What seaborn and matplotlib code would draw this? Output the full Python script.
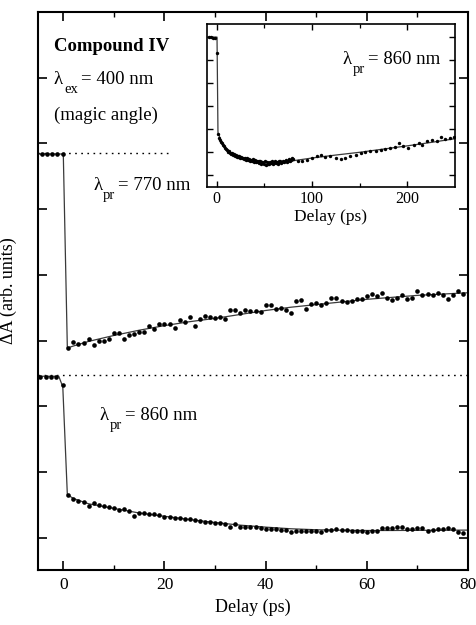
import numpy as np
import pandas as pd
import matplotlib
matplotlib.use("Agg")
import matplotlib.pyplot as plt
import seaborn as sns

# ---------------- data ----------------
# main panel, probe 770 nm
t770_pre = [-4.2, -3.2, -2.2, -1.2, -0.1]
a770_pre = [5.84, 5.84, 5.84, 5.84, 5.84]
t770 = list(range(1, 80))
a770 = [2.89, 2.98, 2.95, 2.97, 3.02, 2.93, 3.00, 3.00, 3.03, 3.12,
        3.12, 3.02, 3.08, 3.11, 3.14, 3.13, 3.22, 3.18, 3.26, 3.26,
        3.26, 3.20, 3.31, 3.29, 3.36, 3.23, 3.33, 3.37, 3.36, 3.35,
        3.36, 3.33, 3.47, 3.47, 3.42, 3.46, 3.45, 3.45, 3.43, 3.54,
        3.54, 3.48, 3.50, 3.47, 3.42, 3.60, 3.62, 3.49, 3.56, 3.58,
        3.55, 3.57, 3.65, 3.65, 3.61, 3.59, 3.60, 3.64, 3.63, 3.68,
        3.71, 3.68, 3.72, 3.65, 3.62, 3.65, 3.69, 3.64, 3.65, 3.75,
        3.69, 3.71, 3.70, 3.73, 3.69, 3.64, 3.69, 3.75, 3.71]
fit770_t = [-5, 0.0, 0.8, 2, 5, 10, 15, 20, 25, 30, 35, 40, 45, 50, 55, 60, 65, 70, 75, 80]
fit770_a = [5.84, 5.84, 2.89, 2.92, 2.99, 3.08, 3.16, 3.23, 3.29, 3.34, 3.40, 3.46,
            3.51, 3.55, 3.59, 3.63, 3.66, 3.69, 3.71, 3.73]
base770 = 5.86
base770_end = 20.6

# main panel, probe 860 nm
t860_pre = [-4.6, -3.5, -2.5, -1.5, -0.1]
a860_pre = [2.455, 2.455, 2.455, 2.455, 2.33]
t860 = list(range(1, 80))
a860 = [0.654, 0.594, 0.558, 0.543, 0.487, 0.528, 0.502, 0.482, 0.477, 0.457,
        0.426, 0.447, 0.411, 0.335, 0.380, 0.375, 0.370, 0.370, 0.345, 0.320,
        0.325, 0.300, 0.310, 0.285, 0.290, 0.274, 0.265, 0.250, 0.240, 0.228,
        0.228, 0.208, 0.163, 0.218, 0.167, 0.163, 0.167, 0.163, 0.150, 0.132,
        0.142, 0.137, 0.117, 0.117, 0.091, 0.112, 0.112, 0.112, 0.112, 0.107,
        0.096, 0.117, 0.117, 0.142, 0.117, 0.117, 0.107, 0.107, 0.102, 0.096,
        0.102, 0.112, 0.157, 0.147, 0.147, 0.162, 0.162, 0.132, 0.142, 0.152,
        0.147, 0.112, 0.127, 0.142, 0.132, 0.152, 0.142, 0.096, 0.081]
fit860_t = [-5, -0.9, -0.1, 0.8, 2, 5, 10, 15, 20, 25, 30, 35, 40, 45, 50, 55, 60, 65, 70, 75, 80]
fit860_a = [2.46, 2.46, 2.30, 0.66, 0.60, 0.52, 0.45, 0.38, 0.33, 0.28, 0.235, 0.195,
            0.165, 0.14, 0.125, 0.118, 0.114, 0.114, 0.116, 0.118, 0.12]
base860 = 2.48

# inset, probe 860 nm, long delays
ti_pre = [-8, -6, -4, -2, 0.7]
ai_pre = [6.0, 6.0, 5.98, 5.98, 5.29]
ti = list(range(2, 81)) + [85, 90, 95, 100, 105, 110, 114, 119, 125, 130, 135, 140, 146,
                           151, 156, 161, 167, 172, 177, 182, 187, 191, 196, 201, 207,
                           212, 215, 221, 226, 231, 235, 240, 245, 249]
ai = [1.80, 1.60, 1.52, 1.45, 1.40, 1.30, 1.25, 1.18, 1.12, 1.10,
      1.02, 1.05, 0.98, 0.92, 0.96, 0.88, 0.90, 0.84, 0.88, 0.80,
      0.85, 0.78, 0.82, 0.74, 0.80, 0.72, 0.76, 0.70, 0.74, 0.66,
      0.72, 0.64, 0.70, 0.62, 0.66, 0.60, 0.68, 0.58, 0.64, 0.56,
      0.62, 0.55, 0.60, 0.52, 0.60, 0.50, 0.58, 0.54, 0.48, 0.60,
      0.44, 0.56, 0.50, 0.46, 0.58, 0.52, 0.60, 0.48, 0.54, 0.62,
      0.52, 0.56, 0.50, 0.60, 0.55, 0.62, 0.54, 0.58, 0.63, 0.56,
      0.60, 0.66, 0.58, 0.62, 0.70, 0.60, 0.66, 0.72, 0.68,
      0.60, 0.62, 0.66, 0.72, 0.83, 0.86, 0.80, 0.84, 0.76, 0.70, 0.76, 0.84, 0.87,
      0.94, 0.99, 1.04, 1.06, 1.09, 1.13, 1.16, 1.23, 1.38, 1.26, 1.19, 1.30,
      1.38, 1.30, 1.48, 1.52, 1.48, 1.67, 1.57, 1.60, 1.67]
fiti_t = [-10, 0.5, 1.5, 2, 5, 10, 20, 30, 40, 50, 60, 70, 80, 100, 125, 150, 175, 200, 225, 250]
fiti_a = [6.0, 6.0, 1.85, 1.80, 1.45, 1.12, 0.86, 0.72, 0.63, 0.58, 0.57, 0.58, 0.62,
          0.74, 0.87, 0.99, 1.13, 1.27, 1.42, 1.58]

main_xticks = [0, 20, 40, 60, 80]
inset_xticks = [0, 100, 200]

# ---------------- style ----------------
sns.set_theme(style="ticks")
plt.rcParams["font.family"] = ["Liberation Serif", "DejaVu Serif"]

W, H = 477, 625
fig = plt.figure(figsize=(W / 100, H / 100), dpi=100)
fig.patch.set_facecolor("white")


def box(l, t, r, b):
    return [l / W, 1 - b / H, (r - l) / W, (b - t) / H]


ax = fig.add_axes(box(38, 12, 468, 570))
axi = fig.add_axes(box(207, 24, 455, 187))

line_kw = dict(color="#3a3a3a", linewidth=0.9, sort=False, estimator=None, legend=False)
pt_kw = dict(color="black", s=11, linewidth=0, legend=False, zorder=3)

# main: dotted baselines
ax.hlines(base770, -5, base770_end, colors="black", linestyles=(0, (1.2, 3.2)), linewidth=1.0)
ax.hlines(base860, -5, 80, colors="black", linestyles=(0, (1.2, 3.2)), linewidth=1.0)

sns.lineplot(x=fit770_t, y=fit770_a, ax=ax, **line_kw)
sns.lineplot(x=fit860_t, y=fit860_a, ax=ax, **line_kw)
sns.scatterplot(x=t770_pre + t770, y=a770_pre + a770, ax=ax, **pt_kw)
sns.scatterplot(x=t860_pre + t860, y=a860_pre + a860, ax=ax, **pt_kw)

ax.set_xlim(-5, 80)
ax.set_ylim(-0.487, 8.0)
ax.set_xticks(main_xticks)
ax.set_xticks([10, 30, 50, 70], minor=True)
ax.set_yticks(range(0, 8))
ax.set_yticklabels([])
ax.tick_params(which="major", direction="in", top=True, right=True, length=6.5,
               width=1.2, labelsize=12.5, color="black", labelcolor="black", pad=5)
ax.tick_params(which="minor", direction="in", top=True, right=False, left=False,
               length=3.5, width=1.0, color="black")
for s in ax.spines.values():
    s.set_linewidth(1.5)
    s.set_color("black")
ax.set_xlabel("Delay (ps)", fontsize=13, color="black", labelpad=4)
ax.set_ylabel("ΔA (arb. units)", fontsize=13, color="black", labelpad=10)
ax.set_facecolor("white")

# inset
sns.lineplot(x=fiti_t, y=fiti_a, ax=axi, **line_kw)
sns.scatterplot(x=ti_pre + ti, y=ai_pre + ai, ax=axi, color="black", s=6,
                linewidth=0, legend=False, zorder=3)
axi.set_xlim(-10, 250)
axi.set_ylim(-0.52, 6.57)
axi.set_xticks(inset_xticks)
axi.set_xticks([50, 150], minor=True)
axi.set_yticks(range(0, 7))
axi.set_yticklabels([])
axi.tick_params(which="major", direction="in", top=True, right=True, length=4.5,
                width=1.0, labelsize=11.5, color="black", labelcolor="black", pad=3)
axi.tick_params(which="minor", direction="in", top=True, length=3, width=0.9, color="black")
for s in axi.spines.values():
    s.set_linewidth(1.2)
    s.set_color("black")
axi.set_xlabel("Delay (ps)", fontsize=12.5, color="black", labelpad=1)
axi.set_ylabel("")
axi.set_facecolor("white")

renderer = fig.canvas.get_renderer()


def ftext(px, py, s, size=13.5, **kw):
    t = fig.text(px / W, 1 - py / H, s, va="baseline", ha="left", color="black",
                 fontsize=size, **kw)
    return t.get_window_extent(renderer).width


def sub_text(px, py, main, sub, rest, size=13.5, sub_size=10.5, drop=9, gap=3):
    w1 = ftext(px, py, main, size)
    w2 = ftext(px + w1 + 1, py + drop, sub, sub_size)
    ftext(px + w1 + 1 + w2 + gap, py, rest, size)


ftext(54, 51, "Compound IV", fontweight="bold")
sub_text(54, 84, "λ", "ex", "= 400 nm")
ftext(54, 120, "(magic angle)")
sub_text(93, 190, "λ", "pr", "= 770 nm")
sub_text(100, 420, "λ", "pr", "= 860 nm")
sub_text(343, 64, "λ", "pr", "= 860 nm")

fig.savefig("out.png", dpi=100, facecolor="white")
